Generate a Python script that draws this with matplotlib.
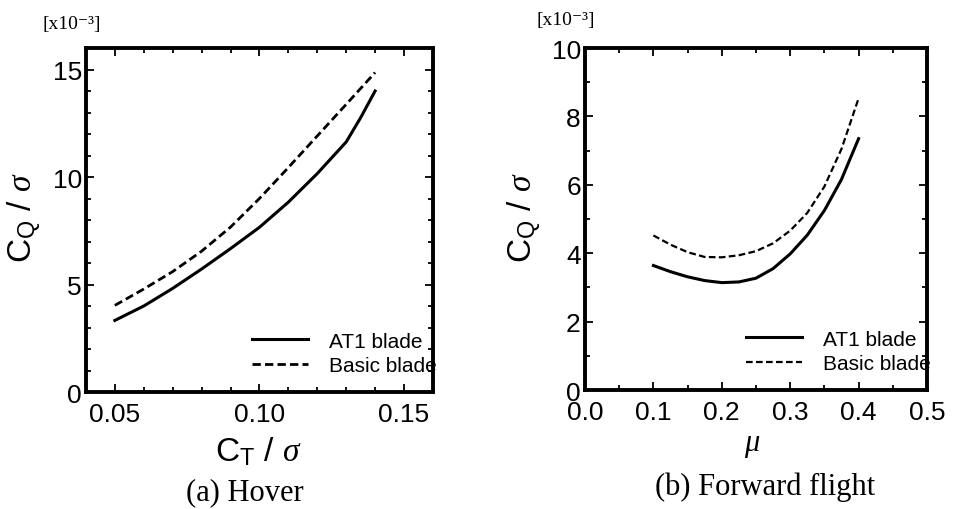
import numpy as np
import matplotlib
matplotlib.use('Agg')
import matplotlib.pyplot as plt
from matplotlib.ticker import MultipleLocator

######################### Data ###########################
# (a) Hover: C_T/sigma vs C_Q/sigma [x1e-3]
HOVER_CT    = [0.05, 0.06, 0.07, 0.08, 0.09, 0.10, 0.11, 0.12, 0.13, 0.135, 0.14]
HOVER_AT1   = [3.33, 4.00, 4.82, 5.72, 6.67, 7.66, 8.83, 10.16, 11.63, 12.76, 14.0]
HOVER_BASIC = [4.03, 4.79, 5.60, 6.55, 7.67, 9.00, 10.44, 11.91, 13.38, 14.12, 14.86]

# (b) Forward flight: mu vs C_Q/sigma [x1e-3]
FF_MU    = [0.10, 0.125, 0.15, 0.175, 0.20, 0.225, 0.25, 0.275, 0.30, 0.325, 0.35, 0.375, 0.40]
FF_AT1   = [3.64, 3.46, 3.31, 3.20, 3.14, 3.16, 3.27, 3.55, 3.98, 4.53, 5.25, 6.16, 7.35]
FF_BASIC = [4.52, 4.25, 4.03, 3.89, 3.88, 3.94, 4.06, 4.29, 4.66, 5.18, 5.95, 7.05, 8.53]

LABELS = ['AT1 blade', 'Basic blade']
##########################################################

plt.rcParams['font.family'] = ['Liberation Sans', 'DejaVu Sans']
plt.rcParams['mathtext.fontset'] = 'custom'
plt.rcParams['mathtext.rm'] = 'Liberation Sans'
plt.rcParams['mathtext.it'] = 'Liberation Serif:italic'
plt.rcParams['mathtext.bf'] = 'Liberation Sans:bold'

fig = plt.figure(figsize=(9.54, 5.10), dpi=100)
ax1 = fig.add_axes([0.0901, 0.2294, 0.3637, 0.6745])
ax2 = fig.add_axes([0.6132, 0.2333, 0.3585, 0.6706])

def style(ax):
    for s in ax.spines.values():
        s.set_linewidth(2.8)
    ax.tick_params(which='both', direction='in', top=True, right=True,
                   labelsize=19, width=1.3, pad=7)
    ax.tick_params(which='major', length=6)
    ax.tick_params(which='minor', length=3.5)
    ax.tick_params(axis='y', pad=3)

# Hover
ax1.plot(HOVER_CT, HOVER_AT1, color='black', lw=2.2, label=LABELS[0])
l, = ax1.plot(HOVER_CT, HOVER_BASIC, color='black', lw=2.0, label=LABELS[1])
l.set_dashes([3, 1.5])
ax1.set_xlim(0.04, 0.16)
ax1.set_ylim(0, 16)
ax1.set_xticks([0.05, 0.10, 0.15], ['0.05', '0.10', '0.15'])
ax1.set_yticks([0, 5, 10, 15])
ax1.xaxis.set_minor_locator(MultipleLocator(0.01))
ax1.yaxis.set_minor_locator(MultipleLocator(1))
style(ax1)

# Forward flight
ax2.plot(FF_MU, FF_AT1, color='black', lw=2.2, label=LABELS[0])
l, = ax2.plot(FF_MU, FF_BASIC, color='black', lw=1.6, label=LABELS[1])
l.set_dashes([3, 1.5])
ax2.set_xlim(0, 0.5)
ax2.set_ylim(0, 10)
ax2.set_xticks([0.0, 0.1, 0.2, 0.3, 0.4, 0.5])
ax2.set_yticks([0, 2, 4, 6, 8, 10])
ax2.xaxis.set_minor_locator(MultipleLocator(0.05))
ax2.yaxis.set_minor_locator(MultipleLocator(1))
style(ax2)

for ax in (ax1, ax2):
    ax.legend(loc='lower right', bbox_to_anchor=(1.01, 0.05), frameon=False,
              fontsize=15, handlelength=2.7, handletextpad=1.0,
              labelspacing=0.25, borderaxespad=0, borderpad=0)

# Axis labels
ylab = r'C$_{\mathrm{Q}}$ / $\sigma$'
fig.text(25/954, 1-218/510, ylab, rotation=90, fontsize=24, ha='center', va='center')
fig.text(525/954, 1-218/510, ylab, rotation=90, fontsize=24, ha='center', va='center')
fig.text(258/954, 1-452/510, r'C$_{\mathrm{T}}$ / $\sigma$', fontsize=24, ha='center', va='center')
fig.text(752/954, 1-445/510, r'$\mu$', fontsize=22, ha='center', va='center')

# Scale notes
serif = ['Liberation Serif', 'DejaVu Serif']
fig.text(43/954, 1-25/510, '[x10\u207b\u00b3]', fontsize=14, family=serif, ha='left', va='center')
fig.text(537/954, 1-20/510, '[x10\u207b\u00b3]', fontsize=14, family=serif, ha='left', va='center')

# Captions
fig.text(245/954, 1-493/510, '(a) Hover', fontsize=22, family=serif, ha='center', va='center')
fig.text(765/954, 1-487/510, '(b) Forward flight', fontsize=22, family=serif, ha='center', va='center')

fig.savefig('out.png', dpi=100)
